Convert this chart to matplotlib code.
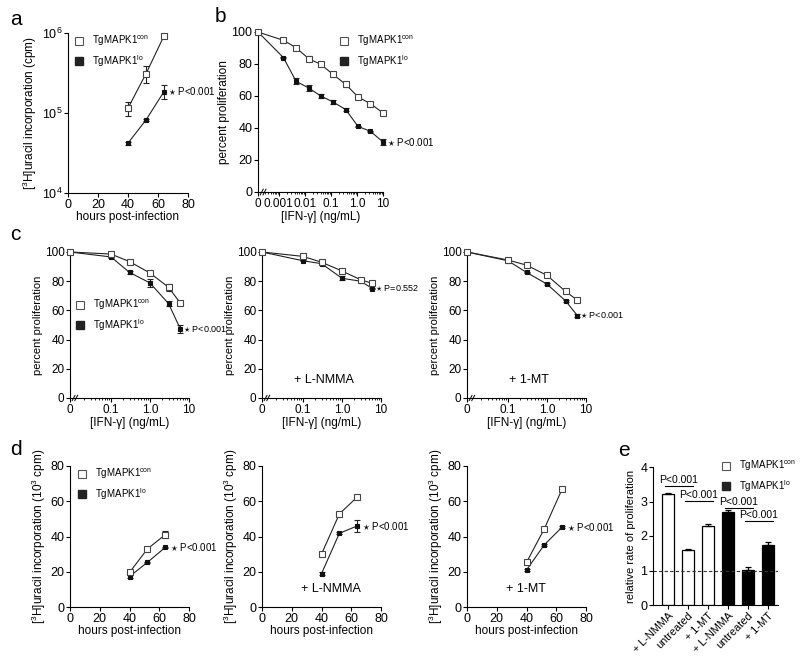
import numpy as np
import matplotlib
matplotlib.use('Agg')
import matplotlib.pyplot as plt
from matplotlib import font_manager
from matplotlib.lines import Line2D
from matplotlib.ticker import NullLocator, FixedLocator

names = set(f.name for f in font_manager.fontManager.ttflist)
fam = 'Liberation Sans Narrow' if 'Liberation Sans Narrow' in names else 'Liberation Sans'
plt.rcParams['font.family'] = [fam, 'DejaVu Sans']
plt.rcParams['mathtext.fontset'] = 'custom'
plt.rcParams['mathtext.rm'] = fam
plt.rcParams['mathtext.it'] = fam + ':italic'
plt.rcParams['mathtext.bf'] = fam + ':bold'

# ---- data ----
hours = [40, 52, 64]
a_con = [1.15e5, 3.1e5, 9.2e5]
a_con_err = [0.22e5, 0.72e5, 0.3e5]
a_lo = [4.2e4, 8.2e4, 1.85e5]
a_lo_err = [0.2e4, 0.3e4, 0.36e5]

b_conc = [0, 0.0015, 0.0046, 0.014, 0.041, 0.12, 0.37, 1.1, 3.3, 10]
b_con = [100, 94.8, 90.2, 83.3, 79.8, 73.5, 67.3, 59.4, 55.2, 49.4]
b_con_err = [0, 0.5, 0.8, 1.5, 1.0, 1.5, 1.5, 0.5, 0.5, 0.8]
b_lo = [100, 84, 69.2, 65, 60, 56.3, 51.5, 41, 37.9, 31.3]
b_lo_err = [0, 0.5, 2.0, 2.0, 1.5, 1.5, 0.8, 0.5, 0.5, 2.0]

c_conc = [0, 0.1, 0.3, 1.0, 3.0, 6.0]
c1_con = [100, 98.6, 93.4, 85.6, 75.8, 65]
c1_con_err = [0, 0.8, 0.5, 1.0, 2.3, 1.5]
c1_lo = [100, 96.6, 86, 78.8, 64.6, 47.3]
c1_lo_err = [0, 1.0, 1.0, 3.0, 1.5, 2.5]
c2_con = [100, 97, 93, 87, 81, 78.5]
c2_con_err = [0, 0.5, 0.8, 0.8, 0.5, 0.5]
c2_lo = [100, 94, 92, 82, 80, 75]
c2_lo_err = [0, 0.5, 1.0, 1.5, 0.5, 0.5]
c3_con = [100, 94.5, 91, 84, 73, 67]
c3_con_err = [0, 0.5, 0.5, 0.5, 0.5, 0.8]
c3_lo = [100, 94, 86, 78, 66.5, 56.5]
c3_lo_err = [0, 0.5, 0.5, 0.5, 0.5, 0.8]

d1_con = [19.6, 32.9, 41]
d1_con_err = [1.0, 0.8, 2.0]
d1_lo = [17.3, 25.3, 33.8]
d1_lo_err = [0.8, 0.5, 0.5]
d2_con = [30, 52.8, 62.4]
d2_con_err = [0.8, 0.5, 0.5]
d2_lo = [18.9, 41.8, 46]
d2_lo_err = [1.0, 0.5, 3.3]
d3_con = [25.3, 44.4, 67]
d3_con_err = [1.5, 0.8, 0.5]
d3_lo = [21, 35.3, 45.4]
d3_lo_err = [0.5, 0.5, 0.5]

e_labels = ['+ L-NMMA', 'untreated', '+ 1-MT', '+ L-NMMA', 'untreated', '+ 1-MT']
e_con = [3.21, 1.60, 2.29]
e_con_err = [0.05, 0.03, 0.06]
e_lo = [2.70, 1.01, 1.74]
e_lo_err = [0.05, 0.08, 0.08]
e_pairs = [(0, 1, 3.45), (1, 2, 3.02), (3, 4, 2.82), (4, 5, 2.43)]

con_lab = 'TgMAPK1$^{\\rm con}$'
lo_lab = 'TgMAPK1$^{\\rm lo}$'
ptxt = '$\\star$ P<0.001'

TICK = 9
LAB = 8.5
SMALL = 7

W, H = 800, 656
fig = plt.figure(figsize=(W / 100, H / 100), dpi=100)


def axpx(l, t, r, b):
    return fig.add_axes([l / W, 1 - b / H, (r - l) / W, (b - t) / H])


def style(ax):
    for s in ['top', 'right']:
        ax.spines[s].set_visible(False)
    for s in ['left', 'bottom']:
        ax.spines[s].set_linewidth(0.8)
    ax.tick_params(direction='out', length=3, width=0.8, labelsize=TICK, pad=1)
    ax.tick_params(which='minor', direction='out', length=1.5, width=0.6)


def series(ax, x, y, e, kind):
    if kind == 'con':
        kw = dict(mfc='white', mec='#444', ms=4.2, zorder=4)
    else:
        kw = dict(mfc='#111', mec='#111', ms=3.3, zorder=3)
    ax.errorbar(x, y, yerr=e, color='#222', lw=0.8, marker='s', mew=0.8,
                capsize=2, elinewidth=0.8, capthick=0.8, clip_on=False, **kw)


def leg(ax, xp, yp):
    h = [Line2D([], [], ls='none', marker='s', ms=5.5, mfc='white', mec='#555', mew=0.8),
         Line2D([], [], ls='none', marker='s', ms=5.5, mfc='#222', mec='#222')]
    ax.legend(h, [con_lab, lo_lab], loc='upper left', bbox_to_anchor=(xp / W, 1 - yp / H),
              bbox_transform=fig.transFigure, frameon=False, fontsize=SMALL,
              handlelength=0.8, handletextpad=0.9, labelspacing=0.45,
              borderpad=0, borderaxespad=0)


def brk(ax):
    for dx in (0.03, 0.052):
        ax.plot([dx - 0.012, dx + 0.012], [-0.018, 0.018], transform=ax.transAxes,
                color='k', lw=0.7, clip_on=False)


def lx(c, zero):
    return [np.log10(v) if v > 0 else zero for v in c]


def dose_axis(ax, zero, labels, lab=LAB):
    ax.set_xlim(zero, 1.0)
    ax.set_ylim(0, 100)
    ax.set_yticks([0, 20, 40, 60, 80, 100])
    pos = [zero] + [np.log10(float(t)) for t in labels]
    ax.set_xticks(pos)
    ax.set_xticklabels(['0'] + labels)
    mins = [np.log10(k * 10.0 ** n) for n in range(-5, 1) for k in range(2, 10)]
    ax.xaxis.set_minor_locator(FixedLocator([m for m in mins if m > zero + 0.25]))
    ax.set_ylabel('percent proliferation', fontsize=lab, labelpad=1)
    ax.set_xlabel('[IFN-γ] (ng/mL)', fontsize=LAB, labelpad=1)
    brk(ax)


def hours_axis(ax, ylab):
    ax.set_xlim(0, 80)
    ax.set_xticks([0, 20, 40, 60, 80])
    ax.set_xlabel('hours post-infection', fontsize=LAB, labelpad=0)
    ax.set_ylabel(ylab, fontsize=LAB, labelpad=2)


# ---- a ----
ax = axpx(68, 33, 188, 193)
style(ax)
series(ax, hours, a_con, a_con_err, 'con')
series(ax, hours, a_lo, a_lo_err, 'lo')
ax.set_yscale('log')
ax.set_ylim(1e4, 1e6)
ax.set_yticks([1e4, 1e5, 1e6])
ax.set_yticklabels(['$10^4$', '$10^5$', '$10^6$'])
ax.yaxis.set_minor_locator(NullLocator())
hours_axis(ax, '[$^3$H]uracil incorporation (cpm)')
ax.text(hours[-1] + 2.5, a_lo[-1], ptxt, fontsize=SMALL, va='center', clip_on=False)
leg(ax, 75, 34)

# ---- b ----
zb = -3.8
ax = axpx(258, 32, 383, 192)
style(ax)
series(ax, lx(b_conc, zb), b_con, b_con_err, 'con')
series(ax, lx(b_conc, zb), b_lo, b_lo_err, 'lo')
dose_axis(ax, zb, ['0.001', '0.01', '0.1', '1.0', '10'])
ax.tick_params(axis='x', labelsize=8.5)
ax.text(np.log10(b_conc[-1]) + 0.15, b_lo[-1], ptxt, fontsize=SMALL, va='center', clip_on=False)
leg(ax, 340, 34)

# ---- c ----
zc = -2.05
c_sets = [(70, c1_con, c1_con_err, c1_lo, c1_lo_err, '$\\star$ P<0.001', None),
          (262, c2_con, c2_con_err, c2_lo, c2_lo_err, '$\\star$ P=0.552', '+ L-NMMA'),
          (467, c3_con, c3_con_err, c3_lo, c3_lo_err, '$\\star$ P<0.001', '+ 1-MT')]
for i, (l, cc, cce, cl, cle, pt, note) in enumerate(c_sets):
    ax = axpx(l, 252, l + 119, 398)
    style(ax)
    series(ax, lx(c_conc, zc), cc, cce, 'con')
    series(ax, lx(c_conc, zc), cl, cle, 'lo')
    dose_axis(ax, zc, ['0.1', '1.0', '10'], lab=8)
    ax.tick_params(labelsize=8.5)
    ax.text(np.log10(c_conc[-1]) + 0.08, cl[-1], pt, fontsize=6.5, va='center', clip_on=False)
    if note:
        ax.text(-0.45, 12, note, fontsize=LAB + 0.5, ha='center', va='center')
    if i == 0:
        leg(ax, 76, 298)

# ---- d ----
d_sets = [(70, d1_con, d1_con_err, d1_lo, d1_lo_err, None),
          (262, d2_con, d2_con_err, d2_lo, d2_lo_err, '+ L-NMMA'),
          (467, d3_con, d3_con_err, d3_lo, d3_lo_err, '+ 1-MT')]
for i, (l, dc, dce, dl, dle, note) in enumerate(d_sets):
    ax = axpx(l, 466, l + 119, 607)
    style(ax)
    series(ax, hours, dc, dce, 'con')
    series(ax, hours, dl, dle, 'lo')
    ax.set_ylim(0, 80)
    ax.set_yticks([0, 20, 40, 60, 80])
    hours_axis(ax, '[$^3$H]uracil incorporation (10$^3$ cpm)')
    ax.text(hours[-1] + 3, dl[-1], ptxt, fontsize=SMALL, va='center', clip_on=False)
    if note:
        ax.text(26, 10, note, fontsize=LAB + 0.5, ha='left', va='center')
    if i == 0:
        leg(ax, 78, 467)

# ---- e ----
ax = axpx(653, 467, 778, 605)
style(ax)
xb = np.arange(6)
ax.bar(xb[:3], e_con, width=0.58, color='white', edgecolor='black', linewidth=0.9,
       yerr=[[0] * 3, e_con_err], error_kw=dict(capsize=2.5, elinewidth=0.9, capthick=0.9))
ax.bar(xb[3:], e_lo, width=0.58, color='black', edgecolor='black', linewidth=0.9,
       yerr=[[0] * 3, e_lo_err], error_kw=dict(capsize=2.5, elinewidth=0.9, capthick=0.9))
ax.axhline(1, color='#333', lw=0.8, ls=(0, (3, 2)))
ax.set_xlim(-0.74, 5.5)
ax.set_ylim(0, 4)
ax.set_yticks([0, 1, 2, 3, 4])
ax.set_xticks(xb)
ax.set_xticklabels(e_labels, rotation=45, ha='right', rotation_mode='anchor', fontsize=7.8)
ax.tick_params(axis='x', pad=1)
ax.set_ylabel('relative rate of proliferation', fontsize=LAB - 0.5, labelpad=3)
for i, j, y in e_pairs:
    ax.plot([i - 0.15, j + 0.25], [y, y], color='k', lw=0.8)
    ax.text((i + j) / 2 + 0.05, y + 0.02, 'P<0.001', fontsize=7.5, ha='center', va='bottom')
leg(ax, 722, 459)

# panel letters
for t, xp, yp in [('a', 10, 25), ('b', 215, 22), ('c', 10, 240), ('d', 10, 455), ('e', 618, 456)]:
    fig.text(xp / W, 1 - yp / H, t, fontsize=15, ha='left', va='baseline')

fig.savefig('out.png', dpi=100)
